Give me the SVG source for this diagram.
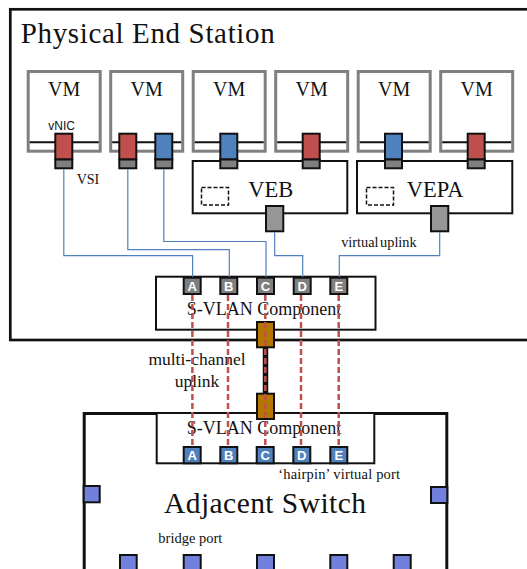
<svg xmlns="http://www.w3.org/2000/svg" width="527" height="569" viewBox="0 0 527 569">
<style>
.serif{font-family:"Liberation Serif","Times New Roman",serif;fill:#111}
.sans{font-family:"Liberation Sans",Arial,sans-serif;fill:#111}
.vm{fill:#fff;stroke:#808080;stroke-width:3}
.vmline{stroke:#111;stroke-width:2}
.box{fill:#fff;stroke:#111;stroke-width:2}
.red{fill:#C0504D;stroke:#111;stroke-width:2}
.blue{fill:#4F81BD;stroke:#111;stroke-width:2}
.dk{fill:#7F7F7F;stroke:#111;stroke-width:2}
.upl{fill:#969696;stroke:#111;stroke-width:2}
.org{fill:#B47800;stroke:#111;stroke-width:2}
.bp{fill:#7080DC;stroke:#111;stroke-width:2}
.dash{fill:none;stroke:#111;stroke-width:1.5;stroke-dasharray:4,2}
.plbl{font-family:"Liberation Sans",Arial,sans-serif;font-weight:bold;font-size:13px;fill:#fff;text-anchor:middle}
.vml{font-size:20px;text-anchor:middle}
.wire{fill:none;stroke:#4F81BD;stroke-width:1.2}
.rdash{fill:none;stroke:#C0504D;stroke-width:2.5;stroke-dasharray:6,3}
</style>

<g id="physical-end-station">
<rect x="10.3" y="9.3" width="530" height="330.7" fill="#fff" stroke="#111" stroke-width="2.7"/>
<text class="serif" x="20.7" y="43.3" font-size="29" textLength="254">Physical End Station</text>
</g>

<g id="adjacent-switch">
<path d="M156.7 413.5 H84.2 V580 M374.3 413.5 H446.8 V580" fill="none" stroke="#111" stroke-width="3"/>
<text class="serif" x="164" y="513.3" font-size="29.5" textLength="202">Adjacent Switch</text>
<text class="serif" x="158.3" y="542.7" font-size="14.5">bridge port</text>
<text class="serif" x="278.3" y="479.3" font-size="14.5" textLength="121.7">‘hairpin’ virtual port</text>
</g>

<g id="vm1"><rect class="vm" x="28.2" y="71.5" width="72" height="79.7"/><line class="vmline" x1="29.7" y1="142.3" x2="98.7" y2="142.3"/><text class="serif vml" x="64.2" y="96">VM</text></g>
<g id="vm2"><rect class="vm" x="110.7" y="71.5" width="72" height="79.7"/><line class="vmline" x1="112.2" y1="142.3" x2="181.2" y2="142.3"/><text class="serif vml" x="146.7" y="96">VM</text></g>
<g id="vm3"><rect class="vm" x="193.2" y="71.5" width="72" height="79.7"/><line class="vmline" x1="194.7" y1="142.3" x2="263.7" y2="142.3"/><text class="serif vml" x="229.2" y="96">VM</text></g>
<g id="vm4"><rect class="vm" x="275.7" y="71.5" width="72" height="79.7"/><line class="vmline" x1="277.2" y1="142.3" x2="346.2" y2="142.3"/><text class="serif vml" x="311.7" y="96">VM</text></g>
<g id="vm5"><rect class="vm" x="358.2" y="71.5" width="72" height="79.7"/><line class="vmline" x1="359.7" y1="142.3" x2="428.7" y2="142.3"/><text class="serif vml" x="394.2" y="96">VM</text></g>
<g id="vm6"><rect class="vm" x="440.7" y="71.5" width="72" height="79.7"/><line class="vmline" x1="442.2" y1="142.3" x2="511.2" y2="142.3"/><text class="serif vml" x="476.7" y="96">VM</text></g>

<g id="veb">
<rect class="box" x="192.7" y="161" width="154.6" height="52.3"/>
<rect class="dash" x="201.5" y="187.5" width="27" height="17.5"/>
<text class="serif" x="248.3" y="196.7" font-size="22.5">VEB</text>
<rect class="upl" x="266" y="206" width="17.3" height="25.3"/>
</g>
<g id="vepa">
<rect class="box" x="357" y="161" width="155.3" height="52.3"/>
<rect class="dash" x="366.5" y="187.5" width="27" height="17.5"/>
<text class="serif" x="406.7" y="196.7" font-size="22.5">VEPA</text>
<rect class="upl" x="431" y="206" width="17.3" height="25.3"/>
<text class="serif" x="341.2" y="247.2" font-size="14.3" word-spacing="-2">virtual uplink</text>
</g>

<g id="vnics">
<rect class="red" x="55.3" y="133.7" width="17" height="25.8"/><rect class="dk" x="55.3" y="159.5" width="17" height="8.8"/>
<rect class="red" x="119.3" y="133.7" width="17" height="25.8"/><rect class="dk" x="119.3" y="159.5" width="17" height="8.8"/>
<rect class="blue" x="155.3" y="133.7" width="17" height="25.8"/><rect class="dk" x="155.3" y="159.5" width="17" height="8.8"/>
<rect class="blue" x="220.3" y="133.7" width="17" height="25.8"/><rect class="dk" x="220.3" y="159.5" width="17" height="8.8"/>
<rect class="red" x="302.7" y="133.7" width="17" height="25.8"/><rect class="dk" x="302.7" y="159.5" width="17" height="8.8"/>
<rect class="blue" x="385" y="133.7" width="17" height="25.8"/><rect class="dk" x="385" y="159.5" width="17" height="8.8"/>
<rect class="red" x="467.7" y="133.7" width="17" height="25.8"/><rect class="dk" x="467.7" y="159.5" width="17" height="8.8"/>
<text class="sans" x="48.3" y="130" font-size="12">vNIC</text>
<text class="serif" x="76.7" y="184.3" font-size="14">VSI</text>
</g>

<g id="svlan-upper">
<rect class="box" x="156" y="276.7" width="219.5" height="53"/>
<text class="serif" x="186.7" y="315" font-size="18">S-VLAN Component</text>
<rect class="dk" x="183.7" y="277.7" width="17" height="16.3"/><text class="plbl" x="192.2" y="291">A</text>
<rect class="dk" x="220.3" y="277.7" width="17" height="16.3"/><text class="plbl" x="228.8" y="291">B</text>
<rect class="dk" x="257" y="277.7" width="17" height="16.3"/><text class="plbl" x="265.5" y="291">C</text>
<rect class="dk" x="293.7" y="277.7" width="17" height="16.3"/><text class="plbl" x="302.2" y="291">D</text>
<rect class="dk" x="330.3" y="277.7" width="17" height="16.3"/><text class="plbl" x="338.8" y="291">E</text>
</g>

<g id="svlan-lower">
<rect class="box" x="156.7" y="413" width="217.6" height="50.3"/>
<text class="serif" x="186.7" y="434" font-size="18">S-VLAN Component</text>
<rect class="blue" x="183.7" y="447" width="17" height="16.3"/><text class="plbl" x="192.2" y="460">A</text>
<rect class="blue" x="220.3" y="447" width="17" height="16.3"/><text class="plbl" x="228.8" y="460">B</text>
<rect class="blue" x="256.7" y="447" width="17" height="16.3"/><text class="plbl" x="265.2" y="460">C</text>
<rect class="blue" x="293.3" y="447" width="17" height="16.3"/><text class="plbl" x="301.8" y="460">D</text>
<rect class="blue" x="330.3" y="447" width="17" height="16.3"/><text class="plbl" x="338.8" y="460">E</text>
</g>

<g id="bridge-ports">
<rect class="bp" x="83.7" y="486" width="16" height="16.3"/>
<rect class="bp" x="431" y="487" width="16.3" height="16"/>
<rect class="bp" x="120" y="555" width="16.7" height="20"/>
<rect class="bp" x="183.7" y="555" width="17" height="20"/>
<rect class="bp" x="257" y="555" width="17" height="20"/>
<rect class="bp" x="330.3" y="555" width="17" height="20"/>
<rect class="bp" x="393.7" y="555" width="17" height="20"/>
</g>

<g id="multi-channel-uplink">
<line x1="265.5" y1="347" x2="265.5" y2="394" stroke="#111" stroke-width="5.5"/>
<rect class="org" x="257" y="322" width="17" height="25.3"/>
<rect class="org" x="257" y="393.7" width="17" height="25.3"/>
<text class="serif" x="197" y="365" font-size="17.5" text-anchor="middle">multi-channel</text>
<text class="serif" x="197" y="386.7" font-size="17.5" text-anchor="middle">uplink</text>
</g>

<g id="connectors">
<path class="wire" d="M63.8 169.3 V255.6 H192.6 V277"/>
<path class="wire" d="M127.8 169.3 V249.6 H229.3 V277"/>
<path class="wire" d="M163.8 169.3 V241.5 H266 V277"/>
<path class="wire" d="M274.7 232.3 V255.6 H302.7 V277"/>
<path class="wire" d="M439.7 232.3 V255.6 H339.3 V277"/>
<line class="rdash" x1="192.4" y1="295" x2="192.4" y2="446"/>
<line class="rdash" x1="228" y1="295" x2="228" y2="446"/>
<line class="rdash" x1="265.3" y1="295" x2="265.3" y2="446"/>
<line class="rdash" x1="301" y1="295" x2="301" y2="446"/>
<line class="rdash" x1="338.7" y1="295" x2="338.7" y2="446"/>
</g>
</svg>
